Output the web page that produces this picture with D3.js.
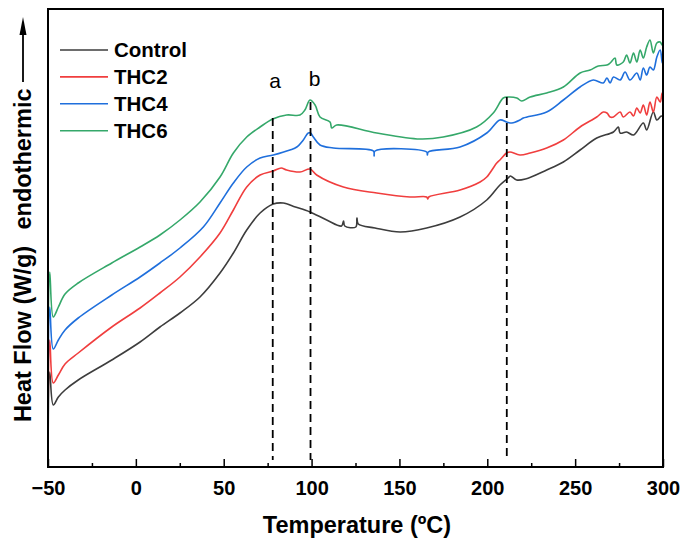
<!DOCTYPE html>
<html>
<head>
<meta charset="utf-8">
<script src="https://cdn.jsdelivr.net/npm/d3@7"></script>
<style>
  html, body { margin: 0; padding: 0; background: #fff; }
  svg text { font-family: Arial, "Liberation Sans", sans-serif; }
</style>
</head>
<body>
<svg id="chart" width="688" height="545"></svg>
<script>
// DSC curves, heat flow in arbitrary units (y axis carries no numbers)
const seriesNames = ["Control", "THC2", "THC4", "THC6"];
const seriesColors = ["#3d3d3d", "#f03e3e", "#1f6fdc", "#35a86a"];

const control = [
  [-49.9, 3.0], [-49.0, 9.5], [-47.0, 6.2], [-44.1, 7.0], [-40.3, 7.7], [-32.8, 8.7], [-13.7, 10.7],
  [2.4, 12.5], [13.7, 14.0], [25.1, 15.4], [36.5, 17.0], [47.9, 19.4], [55.5, 21.4], [63.1, 23.7],
  [70.7, 25.4], [78.2, 26.3], [83.9, 26.4], [90.8, 26.0], [99.1, 25.5], [108.6, 24.7], [117.1, 24.1],
  [118.2, 24.6], [118.9, 24.1], [125.2, 24.0], [125.8, 24.9], [126.6, 24.3], [136.1, 23.9],
  [150.4, 23.5], [165.5, 23.9], [184.5, 25.0], [199.7, 26.7], [207.2, 28.2], [211.9, 28.9],
  [213.1, 29.1], [216.7, 28.7], [221.7, 28.8], [233.8, 29.7], [243.3, 30.5], [252.8, 31.7],
  [262.3, 32.9], [271.8, 33.5], [274.6, 34.0], [275.6, 33.4], [279.3, 33.5], [283.2, 33.2],
  [288.8, 34.4], [290.7, 33.7], [294.5, 35.5], [296.5, 34.7], [299.0, 35.1], [300, 35.0]
];
const thc2 = [
  [-49.9, 6.4], [-49.0, 12.7], [-47.0, 8.4], [-44.1, 9.2], [-40.3, 10.3], [-32.8, 11.4], [-13.7, 14.0],
  [2.4, 15.9], [13.7, 17.4], [25.1, 19.0], [36.5, 21.0], [47.9, 23.4], [55.5, 25.7], [63.1, 28.0],
  [70.7, 29.2], [78.2, 29.6], [82.7, 29.9], [85.8, 29.7], [93.4, 29.5], [99.1, 29.8], [102.9, 29.2],
  [118.1, 28.0], [137.1, 27.4], [156.0, 27.0], [165.5, 27.0], [166.1, 26.8], [166.7, 27.0],
  [184.5, 27.7], [195.9, 28.5], [199.7, 29.0], [205.4, 30.4], [207.2, 30.7], [211.0, 31.4],
  [212.9, 31.5], [218.6, 31.2], [224.4, 31.4], [233.8, 31.9], [243.3, 32.7], [252.8, 34.0],
  [262.3, 35.0], [266.0, 35.5], [268.1, 35.4], [269.9, 35.0], [271.8, 35.0], [275.6, 35.5],
  [277.4, 35.0], [281.2, 35.5], [283.2, 35.1], [285.1, 35.9], [287.0, 35.4], [288.8, 36.2],
  [290.7, 35.2], [292.6, 36.5], [294.5, 35.5], [296.5, 37.0], [298.4, 36.5], [299.5, 37.4], [300, 37.0]
];
const thc4 = [
  [-49.9, 10.0], [-49.0, 16.0], [-47.0, 11.8], [-44.1, 12.7], [-40.3, 13.7], [-32.8, 14.9], [-13.7, 17.2],
  [2.4, 19.0], [13.7, 20.4], [25.1, 21.9], [38.4, 24.0], [47.9, 26.4], [55.5, 28.4], [63.1, 30.0],
  [70.7, 30.9], [78.2, 31.2], [87.7, 31.7], [91.6, 32.0], [95.3, 32.7], [98.1, 33.4], [99.4, 33.4],
  [101.0, 33.0], [104.8, 32.2], [112.4, 31.9], [135.2, 31.6], [135.6, 31.1], [136.1, 31.6],
  [165.5, 31.5], [165.9, 31.2], [166.4, 31.5], [184.5, 32.0], [199.7, 33.4], [207.2, 34.7],
  [211.0, 34.5], [214.0, 34.4], [218.6, 34.7], [220.5, 34.9], [233.8, 35.5], [243.3, 36.7],
  [252.8, 38.0], [260.3, 38.7], [266.0, 38.4], [268.1, 38.9], [269.9, 38.4], [271.8, 39.0],
  [275.6, 38.7], [278.4, 39.5], [281.2, 38.7], [285.1, 39.4], [287.0, 38.7], [288.8, 39.9],
  [290.7, 39.2], [292.6, 40.0], [294.5, 39.7], [296.5, 41.0], [298.4, 41.7], [299.5, 40.5], [300, 40.3]
];
const thc6 = [
  [-49.9, 14.0], [-49.0, 19.5], [-47.0, 15.0], [-44.1, 16.0], [-40.3, 17.3], [-32.8, 18.4], [-13.7, 20.4],
  [2.4, 22.0], [13.7, 23.2], [25.1, 24.7], [36.5, 26.5], [47.9, 29.0], [55.5, 31.4], [63.1, 33.0],
  [70.7, 34.0], [77.9, 34.8], [85.8, 35.2], [93.4, 35.2], [96.2, 35.7], [99.1, 36.7], [102.0, 36.2],
  [104.8, 35.0], [110.5, 34.5], [111.5, 33.9], [114.3, 34.2], [137.1, 33.4], [161.7, 32.8],
  [174.9, 33.0], [193.9, 34.0], [203.4, 35.4], [209.1, 36.9], [211.9, 37.0], [216.8, 36.9],
  [219.6, 36.6], [224.4, 37.0], [233.8, 37.4], [243.3, 38.0], [252.8, 39.4], [258.5, 39.7],
  [263.2, 40.1], [268.1, 40.2], [269.9, 40.4], [272.7, 40.9], [273.7, 40.2], [277.4, 40.5],
  [279.3, 41.2], [281.2, 40.4], [283.2, 41.4], [285.1, 40.5], [287.0, 41.7], [288.8, 40.9],
  [290.7, 42.0], [292.6, 42.7], [294.5, 41.4], [296.5, 42.4], [298.4, 42.5], [299.5, 42.2], [300, 42.6]
];
const seriesData = [control, thc2, thc4, thc6];

// dashed guide lines: temperature, top and bottom heat-flow value
const markerTemps = [77.9, 99.4, 211.1];
const markerTops = [34.9, 36.5, 37.0];
const markerBottom = 0.7;
const markerLabels = ["a", "b"];
const markerLabelTemps = [79.2, 101.7];
const markerLabelVals = [37.9, 38.1];

const majorTicks = [-50, 0, 50, 100, 150, 200, 250, 300];
const minorTicks = [-25, 25, 75, 125, 175, 225, 275];

const svg = d3.select("#chart");
const plotLeft = 48, plotRight = 663, plotTop = 9, plotBottom = 467;

const x = d3.scaleLinear().domain([-50, 300]).range([plotLeft, plotRight]);
const y = d3.scaleLinear().domain([0, 45.8]).range([plotBottom, plotTop]);

// curves
const line = d3.line()
  .x(d => x(d[0]))
  .y(d => y(d[1]))
  .curve(d3.curveCatmullRom.alpha(0.5));

svg.append("g")
  .selectAll("path")
  .data(seriesData)
  .join("path")
  .attr("d", line)
  .attr("fill", "none")
  .attr("stroke", (d, i) => seriesColors[i])
  .attr("stroke-width", 1.6)
  .attr("stroke-linejoin", "round");

// dashed markers
svg.append("g")
  .selectAll("line")
  .data(markerTemps)
  .join("line")
  .attr("x1", d => x(d))
  .attr("x2", d => x(d))
  .attr("y1", (d, i) => y(markerTops[i]))
  .attr("y2", y(markerBottom))
  .attr("stroke", "#000")
  .attr("stroke-width", 1.8)
  .attr("stroke-dasharray", "8,5");

svg.append("g")
  .selectAll("text")
  .data(markerLabels)
  .join("text")
  .attr("x", (d, i) => x(markerLabelTemps[i]))
  .attr("y", (d, i) => y(markerLabelVals[i]))
  .attr("text-anchor", "middle")
  .attr("font-size", 21)
  .text(d => d);

// x axis, ticks pointing inward
const xAxis = svg.append("g")
  .attr("transform", `translate(0,${plotBottom})`)
  .call(d3.axisBottom(x).tickValues(majorTicks).tickSize(-8).tickPadding(14).tickFormat(d3.format("d")));
xAxis.select(".domain").remove();
xAxis.selectAll(".tick line").attr("stroke-width", 1.5);
xAxis.selectAll("text")
  .attr("font-size", 20)
  .attr("font-weight", "bold")
  .attr("font-family", "Arial, 'Liberation Sans', sans-serif")
  .attr("fill", "#000");

const xMinor = svg.append("g")
  .attr("transform", `translate(0,${plotBottom})`)
  .call(d3.axisBottom(x).tickValues(minorTicks).tickSize(-4).tickFormat(""));
xMinor.select(".domain").remove();
xMinor.selectAll(".tick line").attr("stroke-width", 1.5);

// frame
svg.append("rect")
  .attr("x", plotLeft)
  .attr("y", plotTop)
  .attr("width", plotRight - plotLeft)
  .attr("height", plotBottom - plotTop)
  .attr("fill", "none")
  .attr("stroke", "#000")
  .attr("stroke-width", 2);

// axis titles
svg.append("text")
  .attr("x", 357)
  .attr("y", 533)
  .attr("text-anchor", "middle")
  .attr("font-size", 23.5)
  .attr("font-weight", "bold")
  .text("Temperature (ºC)");

svg.append("text")
  .attr("transform", "translate(31,334) rotate(-90)")
  .attr("text-anchor", "middle")
  .attr("font-size", 23.5)
  .attr("font-weight", "bold")
  .text("Heat Flow (W/g)");

svg.append("text")
  .attr("transform", "translate(31,159) rotate(-90)")
  .attr("text-anchor", "middle")
  .attr("font-size", 23.5)
  .attr("font-weight", "bold")
  .text("endothermic");

svg.append("line")
  .attr("x1", 23).attr("x2", 23)
  .attr("y1", 82).attr("y2", 34)
  .attr("stroke", "#000")
  .attr("stroke-width", 1.8);
svg.append("path")
  .attr("d", "M23,17 L19.5,35 L26.5,35 Z")
  .attr("fill", "#000");

// legend
const legend = svg.append("g")
  .selectAll("g")
  .data(seriesNames)
  .join("g")
  .attr("transform", (d, i) => `translate(60,${50 + i * 26.9})`);
legend.append("line")
  .attr("x1", 0).attr("x2", 48)
  .attr("stroke", (d, i) => seriesColors[i])
  .attr("stroke-width", 1.6);
legend.append("text")
  .attr("x", 54)
  .attr("y", 7.3)
  .attr("font-size", 20.5)
  .attr("font-weight", "bold")
  .text(d => d);
</script>
</body>
</html>
